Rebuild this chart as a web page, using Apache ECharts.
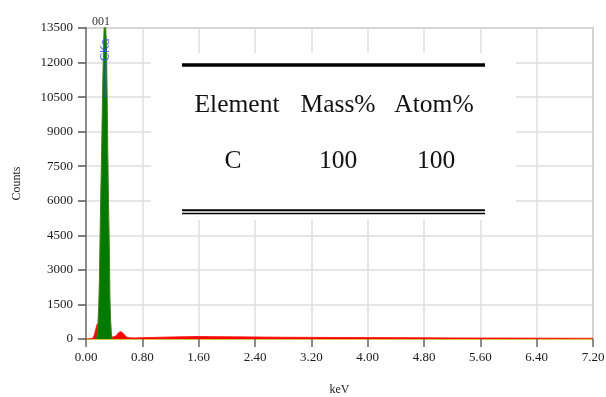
<!DOCTYPE html>
<html>
<head>
<meta charset="utf-8">
<script src="https://cdn.jsdelivr.net/npm/echarts@6/dist/echarts.min.js"></script>
<style>
  html, body { margin: 0; padding: 0; background: #fff; }
  #chart { width: 606px; height: 397px; }
</style>
</head>
<body>
<div id="chart"></div>
<script>
// spectrum data (keV, counts)
const bgKeV = [0.00, 0.05, 0.10, 0.12, 0.14, 0.16, 0.18, 0.20, 0.25, 0.35, 0.38, 0.40, 0.43, 0.46, 0.49, 0.52, 0.55, 0.58, 0.62, 0.70, 0.80, 1.00, 1.20, 1.40, 1.60, 1.80, 2.00, 2.40, 2.80, 3.20, 3.60, 4.00, 4.40, 4.80, 5.20, 5.60, 6.00, 6.40, 6.80, 7.20];
const bgCounts = [0, 0, 40, 200, 450, 650, 700, 600, 300, 150, 80, 60, 140, 270, 320, 270, 160, 80, 50, 45, 55, 70, 85, 95, 105, 100, 95, 85, 75, 70, 65, 60, 55, 50, 45, 42, 40, 36, 33, 30];

const peakKeV = [0.15, 0.16, 0.17, 0.18, 0.19, 0.20, 0.21, 0.22, 0.23, 0.24, 0.25, 0.26, 0.27, 0.28, 0.29, 0.30, 0.31, 0.32, 0.33, 0.34, 0.35, 0.36, 0.37];
const peakCounts = [0, 250, 700, 1400, 2500, 4500, 6300, 7800, 9700, 11400, 12800, 13800, 14200, 14200, 12800, 10600, 8000, 5900, 4200, 1800, 800, 250, 0];

// element line marker
const lineName = 'CKa';
const lineKeV = 0.277;
const lineSpan = [10500, 12000];
const lineLabelAt = 12550;

const spectrumName = '001';

// table
const tableHeader = ['Element', 'Mass%', 'Atom%'];
const tableRow = ['C', '100', '100'];

const serif = '"Liberation Serif", "Times New Roman", serif';

const chart = echarts.init(document.getElementById('chart'));

const bgData = bgKeV.map((x, i) => [x, bgCounts[i]]);
const peakData = peakKeV.map((x, i) => [x, peakCounts[i]]);

const colX = [237, 338, 434];
const rowColX = [233, 338, 436];

const tableGraphics = [
  { type: 'rect', shape: { x: 151, y: 53, width: 365, height: 167 }, style: { fill: '#fff' }, z: 100 },
  { type: 'line', shape: { x1: 182, y1: 65, x2: 485, y2: 65 }, style: { stroke: '#000', lineWidth: 3.5 }, z: 101 },
  { type: 'line', shape: { x1: 182, y1: 210.2, x2: 485, y2: 210.2 }, style: { stroke: '#000', lineWidth: 2 }, z: 101 },
  { type: 'line', shape: { x1: 182, y1: 213.5, x2: 485, y2: 213.5 }, style: { stroke: '#000', lineWidth: 1.5 }, z: 101 }
];
tableHeader.forEach((t, i) => {
  tableGraphics.push({
    type: 'text', x: colX[i], y: 105, z: 101,
    style: { text: t, fill: '#111', font: '25.5px ' + serif, align: 'center', verticalAlign: 'middle' }
  });
});
tableRow.forEach((t, i) => {
  tableGraphics.push({
    type: 'text', x: rowColX[i], y: 161, z: 101,
    style: { text: t, fill: '#111', font: '25.5px ' + serif, align: 'center', verticalAlign: 'middle' }
  });
});

const option = {
  animation: false,
  backgroundColor: '#fff',
  title: {
    text: spectrumName,
    left: 87,
    top: 11,
    textStyle: { fontFamily: serif, fontSize: 12, fontWeight: 'normal', color: '#333' }
  },
  grid: {
    left: 86, right: 13, top: 28, bottom: 58,
    outerBoundsMode: 'none',
    containLabel: false,
    show: true, borderColor: '#a0a0a0', borderWidth: 1.5
  },
  xAxis: {
    type: 'value',
    min: 0, max: 7.2, interval: 0.8,
    name: 'keV',
    nameLocation: 'middle',
    nameGap: 45,
    nameTextStyle: { fontFamily: serif, fontSize: 12, color: '#222' },
    axisLine: { show: true, lineStyle: { color: '#d4bd2a', width: 1.5 } },
    axisTick: { show: true, length: 8, lineStyle: { color: '#666', width: 1.5 } },
    axisLabel: {
      margin: 12, fontFamily: serif, fontSize: 13, color: '#1a1a1a',
      formatter: v => v.toFixed(2)
    },
    splitLine: { show: true, lineStyle: { color: '#dedede', width: 1.5 } }
  },
  yAxis: {
    type: 'value',
    min: 0, max: 13500, interval: 1500,
    name: 'Counts',
    nameLocation: 'middle',
    nameGap: 63,
    nameTextStyle: { fontFamily: serif, fontSize: 12, color: '#222' },
    axisLine: { show: true, lineStyle: { color: '#8c8c8c', width: 2 } },
    axisTick: { show: true, length: 8, lineStyle: { color: '#555', width: 1.5 } },
    axisLabel: { margin: 13, fontFamily: serif, fontSize: 13, color: '#1a1a1a', formatter: v => String(v) },
    splitLine: { show: true, lineStyle: { color: '#dedede', width: 1.5 } }
  },
  series: [
    {
      name: 'background',
      type: 'line',
      data: bgData,
      symbol: 'none',
      lineStyle: { color: '#ff1a1a', width: 1 },
      areaStyle: { color: '#ff0000', opacity: 1 },
      z: 2
    },
    {
      name: 'C',
      type: 'line',
      data: peakData,
      symbol: 'none',
      lineStyle: { color: '#4a7d12', width: 1 },
      areaStyle: { color: '#007a00', opacity: 1 },
      z: 3
    },
    {
      name: 'marker',
      type: 'line',
      data: lineSpan.map(v => [lineKeV, v]),
      symbol: 'none',
      lineStyle: { color: '#2b4cff', width: 1.5 },
      z: 4
    },
    {
      name: 'markerLabel',
      type: 'scatter',
      data: [[lineKeV, lineLabelAt]],
      symbolSize: 0,
      label: {
        show: true, position: 'inside', rotate: 90,
        formatter: lineName,
        fontFamily: '"DejaVu Sans", sans-serif', fontSize: 12, color: '#3050ff'
      },
      z: 5
    }
  ],
  graphic: tableGraphics
};

chart.setOption(option);
</script>
</body>
</html>
